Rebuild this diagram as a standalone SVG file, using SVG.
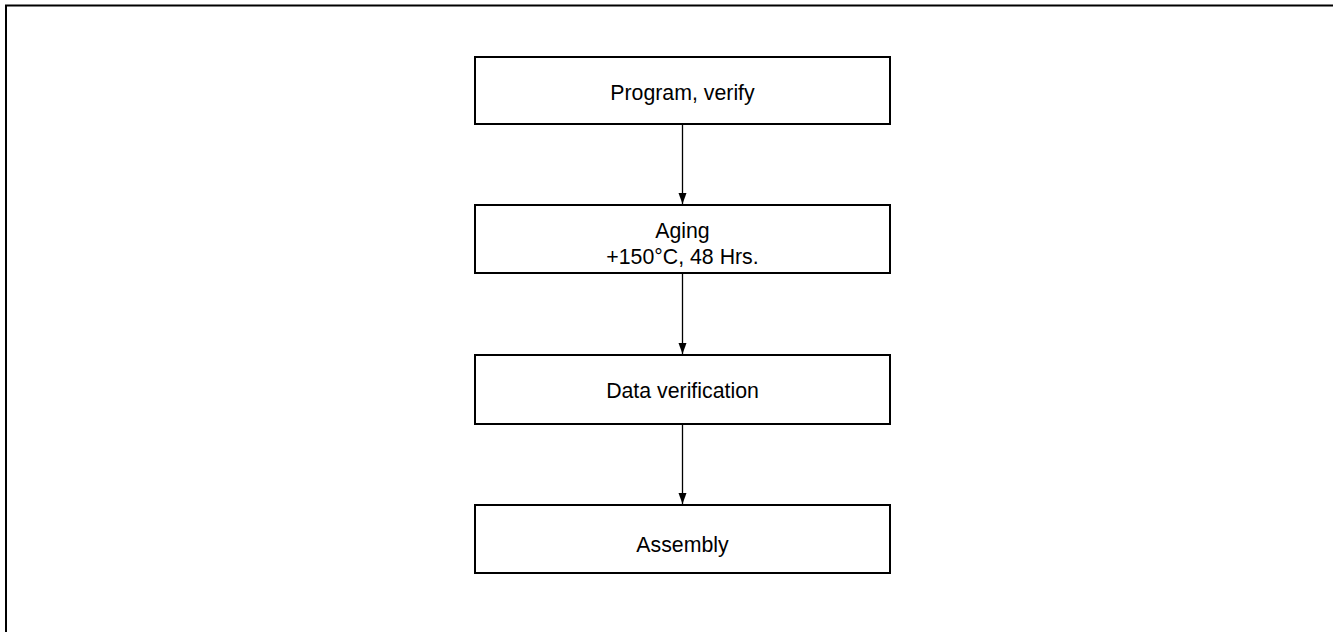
<svg xmlns="http://www.w3.org/2000/svg" width="1333" height="632" viewBox="0 0 1333 632">
<style>
.box{fill:#fff;stroke:#000;stroke-width:2}
.lbl{font-family:"Liberation Sans",Arial,sans-serif;font-size:21.3px;fill:#000;text-anchor:middle}
.conn{stroke:#000;stroke-width:1.3;fill:none}
</style>
<defs>
<marker id="ah" markerWidth="12" markerHeight="12" refX="11" refY="5.5" orient="auto" markerUnits="userSpaceOnUse">
<path d="M0,1.5 L11,5.5 L0,9.5 Z" fill="#000"/>
</marker>
</defs>
<rect width="1333" height="632" fill="#fff"/>
<path d="M6,632 V5.5 H1333" fill="none" stroke="#000" stroke-width="2"/>
<g id="n1"><rect class="box" x="475" y="57" width="415" height="67"/><text class="lbl" x="682.5" y="100">Program, verify</text></g>
<g id="n2"><rect class="box" x="475" y="205" width="415" height="68"/><text class="lbl" x="682.5" y="238">Aging</text><text class="lbl" x="682.5" y="264">+150°C, 48 Hrs.</text></g>
<g id="n3"><rect class="box" x="475" y="355" width="415" height="69"/><text class="lbl" x="682.5" y="398">Data verification</text></g>
<g id="n4"><rect class="box" x="475" y="505" width="415" height="68"/><text class="lbl" x="682.5" y="552">Assembly</text></g>
<g id="connectors">
<line class="conn" x1="682.5" y1="124" x2="682.5" y2="204" marker-end="url(#ah)"/>
<line class="conn" x1="682.5" y1="273" x2="682.5" y2="354" marker-end="url(#ah)"/>
<line class="conn" x1="682.5" y1="424" x2="682.5" y2="504" marker-end="url(#ah)"/>
</g>
</svg>
